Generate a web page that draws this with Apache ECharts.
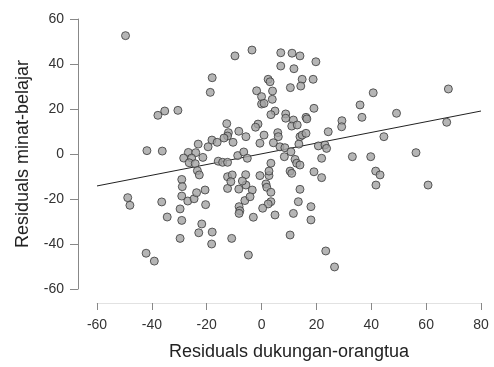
<!DOCTYPE html>
<html>
<head>
<meta charset="utf-8">
<script src="https://cdn.jsdelivr.net/npm/echarts@6/dist/echarts.min.js"></script>
<style>
  html, body { margin: 0; padding: 0; background: #fff; }
  #main { width: 494px; height: 367px; }
</style>
</head>
<body>
<div id="main"></div>
<script>
// residuals
const resX = [
  -49.6, -9.7, -3.5, -18, -18.7, -37.8, -35.3, -30.5, -12.7, -12.1,
  -12.4, -8.3, -5.7, -13.7, -10.4, -18.1, -16.2, -19.5, -23.1, -41.8,
  -36.2, -26.7, -24, -28.4, -25.5, -21.4, -26.4, -24.2, -8.7, -6.5,
  -15.8, -14.2, -12.4, -23.4, -22.7, -29.1, -12.4, -10.7, -5.8, -28.9,
  -48.8, -48, -36.4, -29.1, -26.9, -24.6, -23.7, -20.6, -20.4, -34.4,
  -29.7, -29.1, -21.8, -22.9, -18, -18.2, -29.7, -10.9, -42.1, -39.1,
  -12.4, -8.3, -5.7, -8.2, -7.9, -8.2, -6.1, -4.8, -7, -0.6,
  2.7, 2.7, 1.6, 1.9, -3.4, -4.2, 3.4, 3.4, 2.4, 0.4,
  4.9, -3, 10.4, 11, 19.1, 21.9, 14, 13.4, 11.6, 10.4,
  18, 18, 23.4, 26.6, 41.6, 43.2, 41.7, 60.7, 7, 11.1,
  14, 19.8, 7, 11.8, 2.4, 3.1, 14.8, 18.8, 14.3, 10.5,
  -1.8, 4, 0, 3.9, 0, 0.9, 19.1, 4.9, 3.4, 8.8,
  8.8, 11.6, 11, 13, 16.2, 16.5, -1.3, -2.2, 0.9, 5.9,
  6.1, 4.3, -0.6, 14, 14.8, 16.2, 13.6, 24.3, 6.7, 8.5,
  10.7, -5.2, 20.7, 23.1, 23.7, 21.9, 8.3, 12.2, 12.8, 14,
  3.4, 33.1, 39.8, 44.6, 56.3, 29.3, 29.2, 35.9, 36.6, 40.7,
  49.2, 68.1, 67.5, -11.2
]
const resY = [
  52.6, 43.6, 46.2, 33.9, 27.4, 17.2, 19.1, 19.4, 13.5, 9.5,
  8, 10.1, 7.7, 7.1, 5.2, 6.2, 5.2, 3.2, 4.4, 1.5,
  1.3, 0.7, 0.6, -1.8, -1.8, -1.5, -3.9, -4.3, -0.7, 0.9,
  -3.2, -3.7, -3.7, -7.4, -9.3, -11.3, -10.1, -9.3, -9.2, -14.5,
  -19.4, -22.8, -21.3, -18.7, -20.9, -19.9, -17.2, -16, -22.5, -28,
  -24.4, -29.5, -31.1, -35, -34.7, -40, -37.5, -37.5, -44.1, -47.6,
  -15.3, -15.6, -13.8, -23.4, -25.2, -26.4, -20.7, -44.9, -12, -9.6,
  -9.6, -7.6, -13.3, -14.8, -16, -19, -17, -21.2, -22.2, -24.1,
  -27.1, -28.1, -7.6, -8.6, -7.9, -10.5, -15.7, -21.2, -26.4, -36,
  -23.4, -29.3, -43.1, -50.2, -7.6, -9.3, -13.8, -13.8, 45, 44.8,
  43.6, 41, 39.1, 37.9, 33.2, 32.1, 33.2, 33.2, 30.2, 29.5,
  28.1, 28, 25.5, 24.3, 22.2, 22.5, 20.3, 19.1, 17.5, 17.8,
  15.9, 15.1, 12.4, 12.9, 16.3, 15.6, 13.3, 11.9, 8.4, 9.5,
  7.7, 5, 4.8, 7.7, 8.4, 9.2, 4.4, 9.9, 3.2, 2.8,
  1, -1.9, 3.6, 4, 2.5, -1.9, -1.2, -2.4, -4.1, -4.9,
  -4.1, -1.2, -1.2, 7.7, 0.6, 14.8, 12.1, 21.8, 16.3, 27.2,
  18.1, 28.9, 14.1, -12.3
]
// fitted line, ends at the axis limits
const fitX = [-60, 80]
const fitY = [-14.2, 19.1]

const xTicks = [-60, -40, -20, 0, 20, 40, 60, 80]
const yTicks = [-60, -40, -20, 0, 20, 40, 60]

const points = resX.map((x, i) => [x, resY[i]])
const fit = fitX.map((x, i) => [x, fitY[i]])

const chart = echarts.init(document.getElementById('main'))
chart.setOption({
  animation: false,
  backgroundColor: '#fff',
  textStyle: { fontFamily: 'Liberation Sans, Arial, sans-serif' },
  grid: { left: 97, right: 13, top: 19, bottom: 78 },
  xAxis: {
    type: 'value',
    min: xTicks[0],
    max: xTicks[xTicks.length - 1],
    interval: 20,
    offset: 14,
    name: 'Residuals dukungan-orangtua',
    nameLocation: 'middle',
    nameGap: 40,
    nameTextStyle: { fontSize: 18, color: '#222' },
    axisLine: { show: true, onZero: false, lineStyle: { color: '#e2e2e2', width: 1 } },
    axisTick: { show: true, length: 7, lineStyle: { color: '#888' } },
    axisLabel: { fontSize: 14, color: '#333', margin: 15 },
    splitLine: { show: false }
  },
  yAxis: {
    type: 'value',
    min: yTicks[0],
    max: yTicks[yTicks.length - 1],
    interval: 20,
    offset: 19,
    name: 'Residuals minat-belajar',
    nameLocation: 'middle',
    nameRotate: 90,
    nameGap: 46,
    nameTextStyle: { fontSize: 18, color: '#222' },
    axisLine: { show: true, onZero: false, lineStyle: { color: '#888', width: 1 } },
    axisTick: { show: true, length: 8, lineStyle: { color: '#888' } },
    axisLabel: { fontSize: 14, color: '#333', margin: 14 },
    splitLine: { show: false }
  },
  series: [
    {
      type: 'line',
      data: fit,
      symbol: 'none',
      lineStyle: { color: '#222', width: 1 },
      z: 1
    },
    {
      type: 'scatter',
      data: points,
      symbolSize: 8,
      itemStyle: { color: '#a2a2a2', borderColor: '#383838', borderWidth: 1 },
      z: 2
    }
  ]
})
</script>
</body>
</html>
